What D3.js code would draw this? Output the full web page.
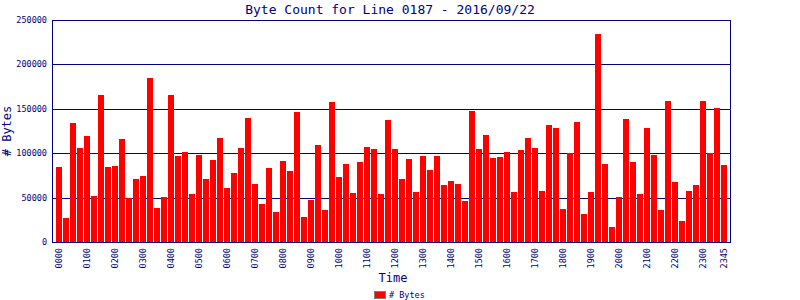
<!DOCTYPE html>
<html>
<head>
<meta charset="utf-8">
<script src="https://cdn.jsdelivr.net/npm/d3@7"></script>
<style>
    body { margin: 0; background: #fff; }
    svg { display: block; }
    text { font-family: 'DejaVu Sans Mono', 'Liberation Mono', monospace; fill: #000080; }
</style>
</head>
<body>
<div id="chart"></div>
<script>
// one bar per 15 minutes, 0000 .. 2345
const times = d3.range(96).map(i => {
    const h = Math.floor(i / 4), m = (i % 4) * 15;
    return String(h).padStart(2, '0') + String(m).padStart(2, '0');
});

const bytes = [
    84800, 27400, 134400, 106200, 119700, 52200, 165900, 84800,
    86000, 116400, 49900, 71300, 74700, 185100, 38700, 51100,
    165900, 97200, 101700, 54400, 98400, 71300, 92700, 117500,
    61200, 78100, 106200, 140000, 65700, 43200, 83700, 34200,
    91600, 80300, 146800, 28500, 47700, 109600, 36400, 158000,
    73600, 88200, 55600, 90500, 107400, 105100, 54400, 137800,
    105100, 71300, 93900, 56700, 97200, 81500, 97200, 64600,
    69100, 65700, 46500, 147900, 105100, 120900, 95000, 96100,
    101700, 56700, 104000, 117500, 106200, 57800, 132100, 128800,
    37500, 100600, 135500, 31900, 56700, 234600, 88200, 17300,
    51100, 138900, 90500, 54400, 128800, 98400, 36400, 159200,
    67900, 24000, 57800, 64600, 159200, 100600, 151300, 87100
];

const yTicks = [0, 50000, 100000, 150000, 200000, 250000];
const xTickLabels = times.filter((t, i) => i % 4 === 0).concat(['2345']);

const width = 800;
const height = 300;
const margin = { top: 20, right: 70, bottom: 58, left: 52 };
const navy = '#000080';

const svg = d3.select('#chart')
    .append('svg')
    .attr('width', width)
    .attr('height', height);

const x = d3.scaleBand()
    .domain(times)
    .range([margin.left + 4, width - margin.right - 3])
    .paddingInner(1 / 7)
    .paddingOuter(0);

const y = d3.scaleLinear()
    .domain([0, 250000])
    .range([height - margin.bottom, margin.top]);

// title
svg.append('text')
    .attr('x', 390)
    .attr('y', 14)
    .attr('text-anchor', 'middle')
    .attr('font-size', '13px')
    .text('Byte Count for Line 0187 - 2016/09/22');

// gridlines
svg.append('g')
    .selectAll('line')
    .data(yTicks)
    .enter()
    .append('line')
    .attr('x1', margin.left)
    .attr('x2', width - margin.right)
    .attr('y1', d => Math.round(y(d)) + 0.5)
    .attr('y2', d => Math.round(y(d)) + 0.5)
    .attr('stroke', navy)
    .attr('stroke-width', 1);

// bars
svg.append('g')
    .selectAll('rect')
    .data(bytes)
    .enter()
    .append('rect')
    .attr('x', (d, i) => x(times[i]))
    .attr('y', d => y(d))
    .attr('width', x.bandwidth())
    .attr('height', d => y(0) - y(d))
    .attr('fill', '#ff0000')
    .attr('shape-rendering', 'crispEdges');

// frame (left / right)
svg.append('rect')
    .attr('x', margin.left + 0.5)
    .attr('y', Math.round(y(250000)) + 0.5)
    .attr('width', width - margin.right - margin.left)
    .attr('height', Math.round(y(0)) - Math.round(y(250000)))
    .attr('fill', 'none')
    .attr('stroke', navy)
    .attr('stroke-width', 1);

// y tick labels
svg.append('g')
    .selectAll('text')
    .data(yTicks)
    .enter()
    .append('text')
    .attr('x', margin.left - 5)
    .attr('y', d => y(d))
    .attr('dy', '0.35em')
    .attr('text-anchor', 'end')
    .attr('font-size', '8.5px')
    .text(d => d);

// x tick labels, rotated
svg.append('g')
    .selectAll('text')
    .data(xTickLabels)
    .enter()
    .append('text')
    .attr('transform', d => `translate(${x(d) + x.bandwidth() / 2 + 0.5},${height - margin.bottom + 6}) rotate(-90)`)
    .attr('dy', '0.35em')
    .attr('text-anchor', 'end')
    .attr('font-size', '8.5px')
    .text(d => d);

// axis titles
svg.append('text')
    .attr('x', 393)
    .attr('y', 282)
    .attr('text-anchor', 'middle')
    .attr('font-size', '12px')
    .text('Time');

svg.append('text')
    .attr('transform', `translate(11,${(margin.top + height - margin.bottom) / 2}) rotate(-90)`)
    .attr('text-anchor', 'middle')
    .attr('font-size', '12px')
    .text('# Bytes');

// legend
svg.append('rect')
    .attr('x', 374.5)
    .attr('y', 291.5)
    .attr('width', 11)
    .attr('height', 7)
    .attr('fill', '#ff0000')
    .attr('stroke', '#808080');

svg.append('text')
    .attr('x', 389)
    .attr('y', 298)
    .attr('font-size', '8.5px')
    .text('# Bytes');
</script>
</body>
</html>
